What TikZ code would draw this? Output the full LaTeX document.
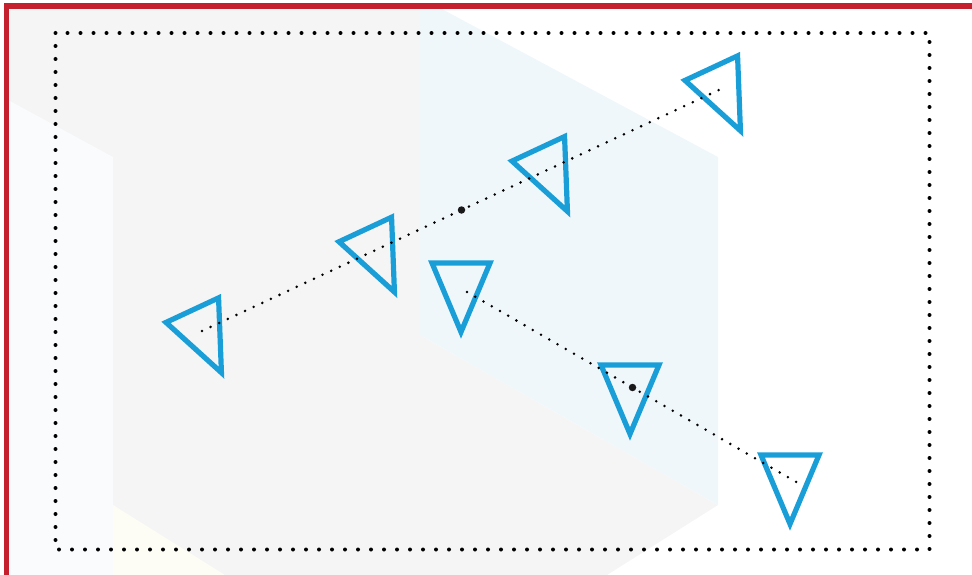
\documentclass[tikz,border=0pt]{standalone}
\usepackage{tikz}
\usetikzlibrary{calc}

\definecolor{frame}{RGB}{196,32,46}
\definecolor{sensorblue}{RGB}{26,158,216}
\definecolor{floorgray}{RGB}{245,245,245}
\definecolor{wallblue}{RGB}{240,247,251}
\definecolor{sidewhite}{RGB}{249,251,253}
\definecolor{paleyellow}{RGB}{253,253,246}

\tikzset{
  sensor/.pic={\draw[sensorblue,line width=5.2pt,line join=miter] (-29,-23) -- (29,-23) -- (0,46) -- cycle;},
  trail/.style={line width=2.8pt, line cap=round, dash pattern=on 0pt off 9.5pt},
  border/.style={line width=4pt, line cap=round, dash pattern=on 0pt off 13pt},
  middot/.style={circle, fill=black!90, inner sep=0pt, minimum size=7.5pt}
}

\begin{document}
\begin{tikzpicture}[x=1pt,y=-1pt]
\useasboundingbox (0,0) rectangle (972,575);

% faint background planes
\fill[floorgray] (8,8) -- (420,8) -- (420,335) -- (718,505) -- (607,575) -- (8,575) -- cycle;
\fill[wallblue] (420,8) -- (440,8) -- (718,157) -- (718,505) -- (420,335) -- cycle;
\fill[sidewhite] (8,100) -- (113,157) -- (113,575) -- (8,575) -- cycle;
\fill[paleyellow] (113,505) -- (225,575) -- (113,575) -- cycle;

% red frame
\draw[frame, line width=5.5pt] (6.5,575) -- (6.5,6) -- (972,6);

% dotted field border
\draw[border] (55.5,33) rectangle (929.5,549.5);

% first track
\coordinate (a1) at (202,331);
\coordinate (a2) at (721,89);
\foreach \t in {0,1/3,2/3,1}
  \pic[rotate=25] at ($(a1)!\t!(a2)$) {sensor};
\draw[trail] (a1) -- (a2);
\node[middot] (am) at ($(a1)!0.5!(a2)$) {};

% second track
\coordinate (b1) at (467,292);
\coordinate (b2) at (798,483);
\foreach \px/\py in {461/286, 630/388, 790/478}
  \pic at (\px,\py) {sensor};
\draw[trail] (b1) -- (b2);
\node[middot] (bm) at ($(b1)!0.5!(b2)$) {};

\end{tikzpicture}
\end{document}
